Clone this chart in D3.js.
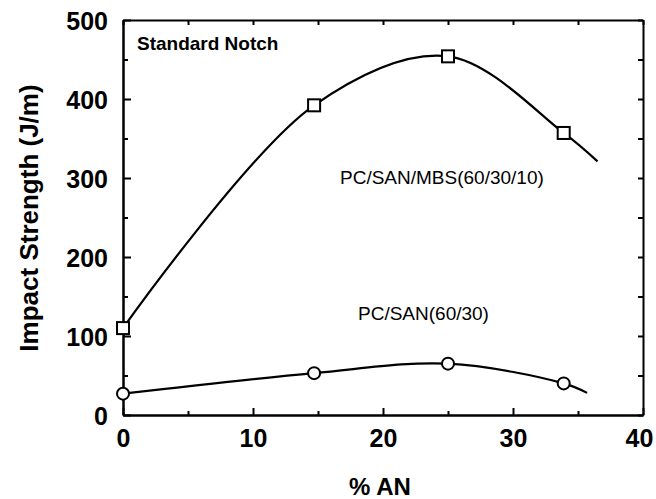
<!DOCTYPE html>
<html>
<head>
<meta charset="utf-8">
<script src="https://cdn.jsdelivr.net/npm/d3@7"></script>
<style>
  body { margin: 0; background: #fff; }
  svg { display: block; font-family: "Liberation Sans", Arial, sans-serif; }
</style>
</head>
<body>
<div id="chart"></div>
<script>
// % AN values of the measured samples
const anPercent = [0, 14.7, 25, 33.9];
// impact strength, J/m
const mbsBlend = [110, 392, 454, 357];
const sanBlend = [27, 53, 65, 40];
// where the drawn fit curves run out past the last sample
const mbsTail = [[36.5, 321]];
const sanTail = [[35.7, 28]];

const xTicks = [0, 10, 20, 30, 40];
const xMinor = [5, 15, 25, 35];
const yTicks = [0, 100, 200, 300, 400, 500];
const yMinor = [50, 150, 250, 350, 450];

const width = 656, height = 499;
const margin = { top: 20, right: 13, bottom: 84, left: 123 };

const svg = d3.select("#chart")
  .append("svg")
  .attr("width", width)
  .attr("height", height)
  .attr("viewBox", `0 0 ${width} ${height}`);

const x = d3.scaleLinear().domain([0, 40]).range([margin.left, width - margin.right]);
const y = d3.scaleLinear().domain([0, 500]).range([height - margin.bottom, margin.top]);

function styleAxis(g) {
  g.select(".domain").attr("stroke", "#000").attr("stroke-width", 2);
  g.selectAll(".tick line").attr("stroke", "#000").attr("stroke-width", 2);
  g.selectAll(".tick text")
    .attr("font-size", "25px")
    .attr("font-weight", "bold")
    .attr("fill", "#000");
}

// bottom
svg.append("g")
  .attr("transform", `translate(0,${y(0)})`)
  .call(d3.axisBottom(x).tickValues(xTicks).tickSize(-7).tickPadding(14).tickSizeOuter(0))
  .call(styleAxis)
  // the last label sits a little left of its tick, as in the scan
  .call(g => g.selectAll(".tick text").filter(d => d === 40).attr("dx", -4));
svg.append("g")
  .attr("transform", `translate(0,${y(0)})`)
  .call(d3.axisBottom(x).tickValues(xMinor).tickSize(-4).tickFormat("").tickSizeOuter(0))
  .call(styleAxis);

// left
svg.append("g")
  .attr("transform", `translate(${x(0)},0)`)
  .call(d3.axisLeft(y).tickValues(yTicks).tickSize(-8).tickPadding(15).tickSizeOuter(0))
  .call(styleAxis)
  .call(g => g.selectAll(".tick text").attr("dy", "0.38em"));
svg.append("g")
  .attr("transform", `translate(${x(0)},0)`)
  .call(d3.axisLeft(y).tickValues(yMinor).tickSize(-5).tickFormat("").tickSizeOuter(0))
  .call(styleAxis);

// top and right: ticks only
svg.append("g")
  .attr("transform", `translate(0,${y(500)})`)
  .call(d3.axisTop(x).tickValues(xTicks.concat(xMinor)).tickSize(-5).tickFormat("").tickSizeOuter(0))
  .call(styleAxis);
svg.append("g")
  .attr("transform", `translate(${x(40)},0)`)
  .call(d3.axisRight(y).tickValues(yTicks.concat(yMinor)).tickSize(-5).tickFormat("").tickSizeOuter(0))
  .call(styleAxis);

const line = d3.line()
  .x(d => x(d[0]))
  .y(d => y(d[1]))
  .curve(d3.curveCatmullRom.alpha(0.5));

const mbsPts = anPercent.map((a, i) => [a, mbsBlend[i]]);
const sanPts = anPercent.map((a, i) => [a, sanBlend[i]]);

svg.append("path")
  .datum(mbsPts.concat(mbsTail))
  .attr("fill", "none")
  .attr("stroke", "#000")
  .attr("stroke-width", 2.2)
  .attr("d", line);

svg.append("path")
  .datum(sanPts.concat(sanTail))
  .attr("fill", "none")
  .attr("stroke", "#000")
  .attr("stroke-width", 2.2)
  .attr("d", line);

svg.append("g")
  .selectAll("rect")
  .data(mbsPts)
  .enter().append("rect")
  .attr("x", d => x(d[0]) - 6)
  .attr("y", d => y(d[1]) - 6)
  .attr("width", 12)
  .attr("height", 12)
  .attr("fill", "#fff")
  .attr("stroke", "#000")
  .attr("stroke-width", 2);

svg.append("g")
  .selectAll("circle")
  .data(sanPts)
  .enter().append("circle")
  .attr("cx", d => x(d[0]))
  .attr("cy", d => y(d[1]))
  .attr("r", 6)
  .attr("fill", "#fff")
  .attr("stroke", "#000")
  .attr("stroke-width", 2);

// labels
svg.append("text")
  .attr("x", 137)
  .attr("y", 50)
  .attr("font-size", "19px")
  .attr("font-weight", "bold")
  .text("Standard Notch");

svg.append("text")
  .attr("x", 340)
  .attr("y", 184)
  .attr("font-size", "19px")
  .text("PC/SAN/MBS(60/30/10)");

svg.append("text")
  .attr("x", 358)
  .attr("y", 320)
  .attr("font-size", "19px")
  .text("PC/SAN(60/30)");

svg.append("text")
  .attr("x", 380)
  .attr("y", 495)
  .attr("text-anchor", "middle")
  .attr("font-size", "24px")
  .attr("font-weight", "bold")
  .text("% AN");

svg.append("text")
  .attr("transform", "translate(38,218) rotate(-90)")
  .attr("text-anchor", "middle")
  .attr("font-size", "26px")
  .attr("font-weight", "bold")
  .text("Impact Strength (J/m)");
</script>
</body>
</html>
